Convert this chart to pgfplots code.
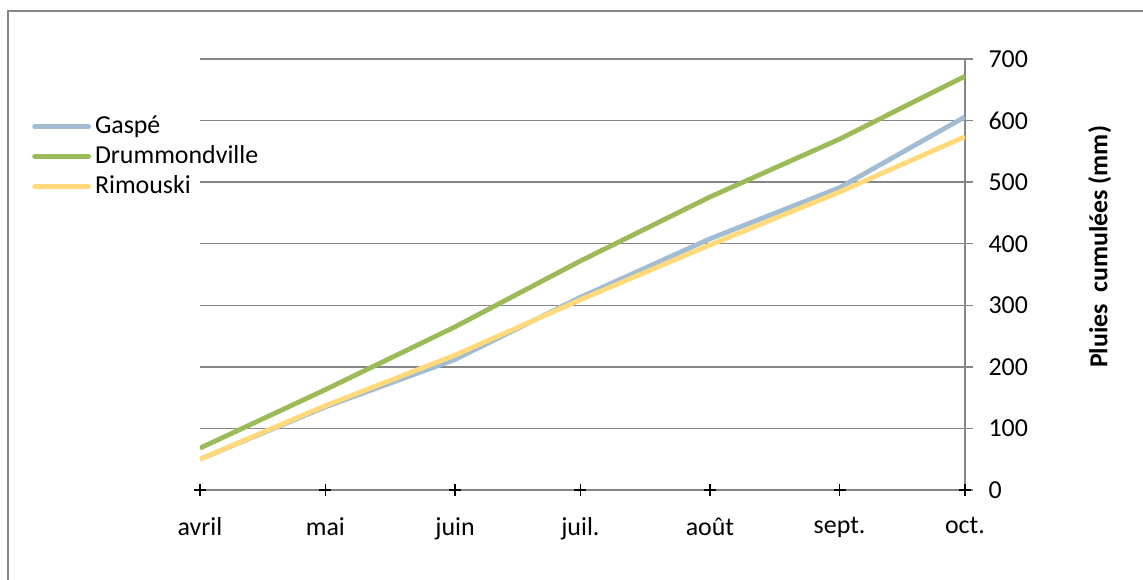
\documentclass[border=0pt]{standalone}
\usepackage{pgfplots}
\usepackage{pgfplotstable}
\pgfplotsset{compat=1.18}
\usepackage{fontspec}
\setmainfont{Carlito}

\definecolor{gaspe}{RGB}{162,188,212}
\definecolor{drummond}{RGB}{155,187,89}
\definecolor{rimouski}{RGB}{255,217,122}
\definecolor{gridgray}{RGB}{134,134,134}

% jours depuis le 1er avril : avril, mai, juin, juil., aout, sept., oct.
\pgfplotstableread{
x   gaspe drum rim zero
0   50    68   50  0
30  135   163  137 0
61  212   265  219 0
91  313   372  309 0
122 408   476  398 0
153 491   570  484 0
183 606   672  574 0
}\pluies

\begin{document}
\begin{tikzpicture}
\useasboundingbox (0,0) rectangle (1143bp,580bp);
\draw[gridgray, line width=1.5bp] (8bp,-20bp) |- (1160bp,569bp);
\begin{axis}[
    at={(200bp,90bp)}, anchor=south west,
    scale only axis,
    width=765bp, height=431bp,
    xmin=0, xmax=183,
    ymin=0, ymax=700,
    axis x line*=bottom,
    axis y line*=right,
    axis line style={gridgray, line width=1.5bp},
    xtick={0,30,61,91,122,153,183},
    xticklabels={avril,mai,juin,juil.,août,sept.,oct.},
    ytick={0,100,...,700},
    x tick style={draw=none},
    y tick style={gridgray, line width=1.5bp},
    major tick length=8bp,
    tick align=outside,
    ymajorgrids,
    major grid style={gridgray, line width=1.5bp},
    tick label style={font=\fontsize{26}{31}\selectfont},
    /pgf/number format/assume math mode=true,
    xticklabel style={yshift=-16bp},
    yticklabel style={xshift=12bp},
    ylabel={\bfseries Pluies\ \ cumulées (mm)},
    ylabel style={font=\fontsize{26}{31}\selectfont, at={(axis description cs:1.176,0.564)}, anchor=center},
    legend style={draw=none, fill=none, at={(axis description cs:-0.2235,0.879)}, anchor=north west,
        font=\fontsize{26}{31}\selectfont, row sep=4bp,
        nodes={inner sep=0pt, text height=20bp, text depth=6bp}},
    legend cell align=left,
    legend image code/.code={\draw[#1, line cap=round] (0bp,0bp) -- (54bp,0bp); \path (58bp,0bp);},
    every axis plot/.append style={line width=4.8bp, line join=round},
]
\addplot[gaspe] table[x=x, y=gaspe] {\pluies};
\addlegendentry{Gaspé}
\addplot[drummond] table[x=x, y=drum] {\pluies};
\addlegendentry{Drummondville}
\addplot[rimouski] table[x=x, y=rim] {\pluies};
\addlegendentry{Rimouski}
\addplot[forget plot, only marks, mark=+, mark size=6bp, black, mark options={line width=1.3bp}]
    table[x=x, y=zero] {\pluies};
\end{axis}
\end{tikzpicture}
\end{document}
